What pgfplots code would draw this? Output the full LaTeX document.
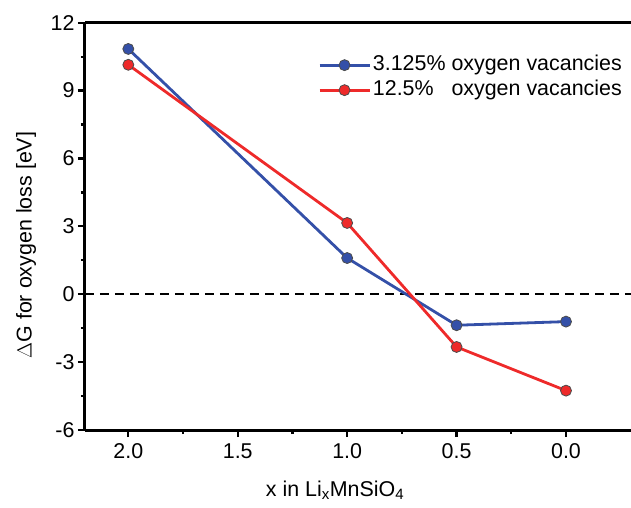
\documentclass[border=0pt]{standalone}
\usepackage{pgfplots}
\pgfplotsset{compat=1.18}
\usepackage{fontspec}
\setmainfont{Liberation Sans}
\definecolor{cblue}{RGB}{52,80,168}
\definecolor{cred}{RGB}{238,42,42}
\begin{document}
\begin{tikzpicture}
\useasboundingbox (-85bp,-78bp) rectangle (546bp,430bp);
\begin{axis}[
  at={(0,0)}, anchor=south west,
  scale only axis,
  width=546bp, height=407.3bp,
  x dir=reverse,
  xmin=-0.297, xmax=2.198,
  ymin=-6, ymax=12,
  axis x line=box,
  axis y line=left,
  axis line style={line width=3bp, -},
  xtick={0,0.5,1,1.5,2},
  xticklabels={0.0,0.5,1.0,1.5,2.0},
  minor xtick={0.25,0.75,1.25,1.75},
  ytick={-6,-3,0,3,6,9,12},
  minor ytick={-4.5,-1.5,1.5,4.5,7.5,10.5},
  tick align=outside,
  xtick pos=bottom, ytick pos=left,
  major tick length=7bp, minor tick length=4bp,
  every tick/.style={line width=2.2bp, black},
  /pgf/number format/assume math mode=true,
  tick label style={font=\fontsize{21.5}{25}\selectfont},
  xticklabel style={yshift=-3bp},
  label style={font=\fontsize{21.5}{25}\selectfont},
  xlabel={x in Li\textsubscript{x}MnSiO\textsubscript{4}},
  ylabel={$\Delta$G for oxygen loss [eV]},
  xlabel style={at={(axis description cs:0.458,0)}, anchor=center, yshift=-60bp},
  ylabel style={at={(axis description cs:-0.108,0.454)}, anchor=center, rotate=0},
  legend style={at={(axis description cs:0.427,0.924)}, anchor=north west, draw=none, fill=none,
    font=\fontsize{21.5}{25}\selectfont, row sep=2bp, inner sep=0bp, outer sep=0bp,
    nodes={inner sep=2bp, text height=15bp, text depth=4bp}},
  legend cell align=left,
  legend image code/.code={\draw[mark repeat=2, mark phase=2] plot coordinates {(0bp,0bp) (25bp,0bp) (50bp,0bp)};},
  clip=false,
]
\addplot[black, dashed, line width=2.2bp, dash pattern=on 9bp off 6bp, forget plot] coordinates {(2.198,0) (-0.297,0)};
\addplot[cblue, line width=2.8bp, mark=*, mark size=5.5bp, mark options={fill=cblue, draw=black!70, line width=0.8bp}] coordinates {
 (2.0,10.84) (1.0,1.60) (0.5,-1.37) (0.0,-1.21)};
\addlegendentry{3.125\% oxygen vacancies}
\addplot[cred, line width=2.8bp, mark=*, mark size=5.5bp, mark options={fill=cred, draw=black!70, line width=0.8bp}] coordinates {
 (2.0,10.14) (1.0,3.15) (0.5,-2.33) (0.0,-4.26)};
\addlegendentry{12.5\%\phantom{0} oxygen vacancies}
\end{axis}
\end{tikzpicture}
\end{document}
